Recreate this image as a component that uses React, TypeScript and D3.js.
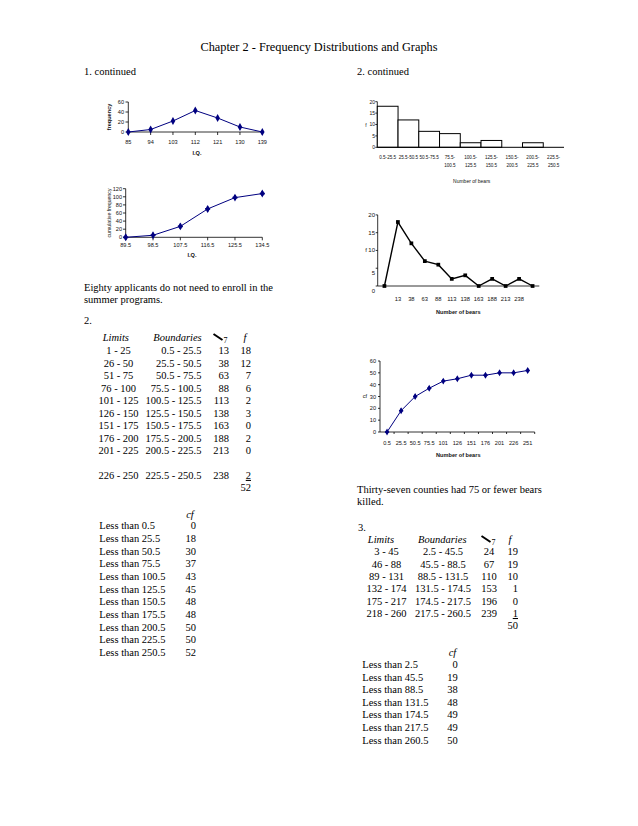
import React from 'react';
import * as d3 from 'd3';

// ---------- DATA ----------
const iqMidpoints = ['85', '94', '103', '112', '121', '130', '139'];
const iqFreq = [0, 5, 22, 43, 28, 10, 0];
const iqFreqTicks = [0, 20, 40, 60];

const iqBoundaries = ['89.5', '98.5', '107.5', '116.5', '125.5', '134.5'];
const iqCumFreq = [0, 5, 27, 70, 98, 108];
const iqCumTicks = [0, 20, 40, 60, 80, 100, 120];

const bearBinLabels = [
  ['0.5-25.5'], ['25.5-50.5'], ['50.5-75.5'], ['75.5-', '100.5'], ['100.5-', '125.5'],
  ['125.5-', '150.5'], ['150.5-', '200.5'], ['200.5-', '225.5'], ['225.5-', '250.5'],
];
const bearBinFreq = [18, 12, 7, 6, 2, 3, 0, 2, 0];
const bearHistTicks = [0, 5, 10, 15, 20];

const bearMidLabels = ['', '13', '38', '63', '88', '113', '138', '163', '188', '213', '238', ''];
const bearMidFreq = [0, 18, 12, 7, 6, 2, 3, 0, 2, 0, 2, 0];
const bearPolyTicks = [0, 5, 10, 15, 20];

const bearCfLabels = ['0.5', '25.5', '50.5', '75.5', '101', '126', '151', '176', '201', '226', '251'];
const bearCf = [0, 18, 30, 37, 43, 45, 48, 48, 50, 50, 52];
const bearCfTicks = [0, 10, 20, 30, 40, 50, 60];

const p2Limits = ['1 - 25', '26 - 50', '51 - 75', '76 - 100', '101 - 125', '126 - 150', '151 - 175', '176 - 200', '201 - 225', '226 - 250'];
const p2Bounds = ['0.5 - 25.5', '25.5 - 50.5', '50.5 - 75.5', '75.5 - 100.5', '100.5 - 125.5', '125.5 - 150.5', '150.5 - 175.5', '175.5 - 200.5', '200.5 - 225.5', '225.5 - 250.5'];
const p2Mid = ['13', '38', '63', '88', '113', '138', '163', '188', '213', '238'];
const p2Freq = ['18', '12', '7', '6', '2', '3', '0', '2', '0', '2'];
const p2Total = '52';
const p2CfLabels = ['Less than 0.5', 'Less than 25.5', 'Less than 50.5', 'Less than 75.5', 'Less than 100.5', 'Less than 125.5', 'Less than 150.5', 'Less than 175.5', 'Less than 200.5', 'Less than 225.5', 'Less than 250.5'];
const p2Cf = ['0', '18', '30', '37', '43', '45', '48', '48', '50', '50', '52'];

const p3Limits = ['3 - 45', '46 - 88', '89 - 131', '132 - 174', '175 - 217', '218 - 260'];
const p3Bounds = ['2.5 - 45.5', '45.5 - 88.5', '88.5 - 131.5', '131.5 - 174.5', '174.5 - 217.5', '217.5 - 260.5'];
const p3Mid = ['24', '67', '110', '153', '196', '239'];
const p3Freq = ['19', '19', '10', '1', '0', '1'];
const p3Total = '50';
const p3CfLabels = ['Less than 2.5', 'Less than 45.5', 'Less than 88.5', 'Less than 131.5', 'Less than 174.5', 'Less than 217.5', 'Less than 260.5'];
const p3Cf = ['0', '19', '38', '48', '49', '49', '50'];

// ---------- STYLE ----------
const SERIF = "'Liberation Serif', 'Times New Roman', serif";
const SANS = "'Liberation Sans', Arial, sans-serif";
const NAVY = '#000080';
const FS = 10.5;

const T = (props: any) => <text fontFamily={SERIF} fontSize={FS} fill="#000" {...props} />;
const S = (props: any) => <text fontFamily={SANS} fontSize={5.6} fill="#111" {...props} />;

function IqFreqChart() {
  const x = d3.scalePoint<string>().domain(iqMidpoints).range([128.3, 262.3]);
  const y = d3.scaleLinear().domain([0, 60]).range([132, 102]);
  const line = d3.line<number>().x((_, i) => x(iqMidpoints[i])!).y(d => y(d));
  const diamond = d3.symbol().type(d3.symbolDiamond).size(18)()!;
  return (
    <g>
      <line x1={128.3} x2={128.3} y1={y(60)} y2={y(0)} stroke="#000" strokeWidth={0.8} />
      <line x1={128.3} x2={262.3} y1={y(0)} y2={y(0)} stroke="#000" strokeWidth={0.8} />
      {iqFreqTicks.map(t => (
        <g key={t}>
          <line x1={125.5} x2={128.3} y1={y(t)} y2={y(t)} stroke="#000" strokeWidth={0.8} />
          <S x={124} y={y(t) + 2} textAnchor="end">{t}</S>
        </g>
      ))}
      {iqMidpoints.map(m => (
        <g key={m}>
          <line x1={x(m)} x2={x(m)} y1={y(0)} y2={y(0) + 3} stroke="#000" strokeWidth={0.8} />
          <S x={x(m)} y={143.8} textAnchor="middle">{m}</S>
        </g>
      ))}
      <path d={line(iqFreq)!} fill="none" stroke={NAVY} strokeWidth={1} />
      {iqFreq.map((v, i) => (
        <path key={i} d={diamond} transform={`translate(${x(iqMidpoints[i])},${y(v)})`} fill={NAVY} />
      ))}
      <S x={197} y={155} textAnchor="middle" fontWeight="bold">I.Q.</S>
      <S transform="translate(111,117) rotate(-90)" textAnchor="middle" fontWeight="bold">frequency</S>
    </g>
  );
}

function IqCumChart() {
  const x = d3.scalePoint<string>().domain(iqBoundaries).range([125.7, 262.3]);
  const y = d3.scaleLinear().domain([0, 120]).range([237.3, 188.7]);
  const line = d3.line<number>().x((_, i) => x(iqBoundaries[i])!).y(d => y(d));
  const star = d3.symbol().type(d3.symbolDiamond).size(18)()!;
  const cross = d3.symbol().type(d3.symbolCross).size(14)()!;
  return (
    <g>
      <line x1={125.7} x2={125.7} y1={y(120)} y2={y(0)} stroke="#000" strokeWidth={0.8} />
      <line x1={125.7} x2={262.3} y1={y(0)} y2={y(0)} stroke="#000" strokeWidth={0.8} />
      {iqCumTicks.map(t => (
        <g key={t}>
          <line x1={123} x2={125.7} y1={y(t)} y2={y(t)} stroke="#000" strokeWidth={0.8} />
          <S x={122} y={y(t) + 2} textAnchor="end">{t}</S>
        </g>
      ))}
      {iqBoundaries.map(m => (
        <g key={m}>
          <line x1={x(m)} x2={x(m)} y1={y(0)} y2={y(0) + 3} stroke="#000" strokeWidth={0.8} />
          <S x={x(m)} y={247.3} textAnchor="middle">{m}</S>
        </g>
      ))}
      <path d={line(iqCumFreq)!} fill="none" stroke={NAVY} strokeWidth={1} />
      {iqCumFreq.map((v, i) => (
        <g key={i} transform={`translate(${x(iqBoundaries[i])},${y(v)})`}>
          <path d={star} fill={NAVY} />
          <path d={cross} fill={NAVY} />
        </g>
      ))}
      <S x={192} y={257} textAnchor="middle" fontWeight="bold">I.Q.</S>
      <S transform="translate(110.5,213) rotate(-90)" textAnchor="middle" fontSize={5.2}>cumulative  frequency</S>
    </g>
  );
}

function BearHistogram() {
  const idx = bearBinFreq.map((_, i) => String(i));
  const x = d3.scaleBand<string>().domain(idx).range([377.3, 564]).padding(0);
  const y = d3.scaleLinear().domain([0, 20]).range([147.3, 101.7]);
  return (
    <g>
      <line x1={377.3} x2={377.3} y1={y(20)} y2={y(0)} stroke="#000" strokeWidth={0.8} />
      {bearHistTicks.map(t => (
        <g key={t}>
          <line x1={375.3} x2={377.3} y1={y(t)} y2={y(t)} stroke="#000" strokeWidth={0.8} />
          <S x={375} y={y(t) + 1.8} textAnchor="end" fontSize={5}>{t}</S>
        </g>
      ))}
      {bearBinFreq.map((v, i) => (
        <rect key={i} x={x(String(i))} y={y(v)} width={x.bandwidth()} height={y(0) - y(v)} fill="#fff" stroke="#000" strokeWidth={1} />
      ))}
      <line x1={377.3} x2={564} y1={y(0)} y2={y(0)} stroke="#000" strokeWidth={1} />
      {bearBinLabels.map((lab, i) => (
        <g key={i}>
          {lab.map((s, j) => (
            <S key={j} x={x(String(i))! + x.bandwidth() / 2} y={159 + j * 8} textAnchor="middle" fontSize={4.6}>{s}</S>
          ))}
        </g>
      ))}
      <S x={366} y={127} textAnchor="middle" fontSize={5}>f</S>
      <S x={471.7} y={183} textAnchor="middle" fontSize={5}>Number of bears</S>
    </g>
  );
}

function BearPolygon() {
  const idx = bearMidLabels.map((_, i) => String(i));
  const x = d3.scalePoint<string>().domain(idx).range([377.7, 539.3]).padding(0.5);
  const y = d3.scaleLinear().domain([0, 20]).range([286, 214.9]);
  const line = d3.line<number>().x((_, i) => x(String(i))!).y(d => y(d));
  const sq = d3.symbol().type(d3.symbolSquare).size(14)()!;
  return (
    <g>
      <line x1={377.7} x2={377.7} y1={y(20)} y2={y(0)} stroke="#000" strokeWidth={0.8} />
      <line x1={377.7} x2={539.3} y1={y(0)} y2={y(0)} stroke="#000" strokeWidth={0.8} />
      {bearPolyTicks.map(t => (
        <g key={t}>
          <line x1={375.7} x2={377.7} y1={y(t)} y2={y(t)} stroke="#000" strokeWidth={0.8} />
          <S x={375} y={y(t) + 2 + (t <= 5 ? 5 : 0)} textAnchor="end" fontSize={6}>{t}</S>
        </g>
      ))}
      {bearMidLabels.map((m, i) => m ? (
        <S key={i} x={x(String(i))} y={301} textAnchor="middle" fontSize={5.8}>{m}</S>
      ) : null)}
      <path d={line(bearMidFreq)!} fill="none" stroke="#000" strokeWidth={1.4} />
      {bearMidFreq.map((v, i) => (
        <path key={i} d={sq} transform={`translate(${x(String(i))},${y(v)})`} fill="#000" />
      ))}
      <S x={366} y={252.3} textAnchor="middle" fontSize={6}>f</S>
      <S x={458.3} y={314} textAnchor="middle" fontWeight="bold">Number of bears</S>
    </g>
  );
}

function BearOgive() {
  const x = d3.scalePoint<string>().domain(bearCfLabels).range([380, 534.7]).padding(0.5);
  const y = d3.scaleLinear().domain([0, 60]).range([432, 361]);
  const line = d3.line<number>().x((_, i) => x(bearCfLabels[i])!).y(d => y(d));
  const star = d3.symbol().type(d3.symbolDiamond).size(14)()!;
  const cross = d3.symbol().type(d3.symbolCross).size(10)()!;
  const step = x.step();
  return (
    <g>
      <line x1={380} x2={380} y1={y(60)} y2={y(0)} stroke="#000" strokeWidth={0.8} />
      <line x1={380} x2={534.7} y1={y(0)} y2={y(0)} stroke="#000" strokeWidth={0.8} />
      {bearCfTicks.map(t => (
        <g key={t}>
          <line x1={378} x2={380} y1={y(t)} y2={y(t)} stroke="#000" strokeWidth={0.8} />
          <S x={376} y={y(t) + 2} textAnchor="end">{t}</S>
        </g>
      ))}
      {bearCfLabels.map(m => (
        <g key={m}>
          <line x1={x(m)! + step / 2} x2={x(m)! + step / 2} y1={y(0)} y2={y(0) + 2} stroke="#000" strokeWidth={0.8} />
          <S x={x(m)} y={444.5} textAnchor="middle">{m}</S>
        </g>
      ))}
      <path d={line(bearCf)!} fill="none" stroke={NAVY} strokeWidth={1} />
      {bearCf.map((v, i) => (
        <g key={i} transform={`translate(${x(bearCfLabels[i])},${y(v)})`}>
          <path d={star} fill={NAVY} />
          <path d={cross} fill={NAVY} />
        </g>
      ))}
      <S x={365} y={398} textAnchor="middle">cf</S>
      <S x={458.3} y={456.5} textAnchor="middle" fontWeight="bold">Number of bears</S>
    </g>
  );
}

function MidGlyph({ x, y }: { x: number; y: number }) {
  return (
    <g>
      <line x1={x} y1={y - 7} x2={x + 9} y2={y - 1} stroke="#000" strokeWidth={2} />
      <T x={x + 10} y={y + 1.5} fontSize={8}>7</T>
    </g>
  );
}

function Problem2Table() {
  const rowY = (i: number) => 354.4 + (i < 9 ? i : 10) * 12.45;
  return (
    <g>
      <T x={115.8} y={341} textAnchor="middle" fontStyle="italic">Limits</T>
      <T x={177.5} y={341} textAnchor="middle" fontStyle="italic">Boundaries</T>
      <MidGlyph x={213.5} y={341} />
      <T x={245} y={341} textAnchor="middle" fontStyle="italic">f</T>
      {p2Limits.map((s, i) => (
        <g key={i}>
          <T x={118.5} y={rowY(i)} textAnchor="middle">{s}</T>
          <T x={201.5} y={rowY(i)} textAnchor="end">{p2Bounds[i]}</T>
          <T x={229} y={rowY(i)} textAnchor="end">{p2Mid[i]}</T>
          <T x={251} y={rowY(i)} textAnchor="end" textDecoration={i === p2Limits.length - 1 ? 'underline' : undefined}>{p2Freq[i]}</T>
        </g>
      ))}
      <T x={251} y={491} textAnchor="end">{p2Total}</T>
      <T x={190} y={517.5} textAnchor="middle" fontStyle="italic">cf</T>
      {p2CfLabels.map((s, i) => (
        <g key={i}>
          <T x={99.3} y={529.4 + i * 12.66}>{s}</T>
          <T x={196} y={529.4 + i * 12.66} textAnchor="end">{p2Cf[i]}</T>
        </g>
      ))}
    </g>
  );
}

function Problem3Table() {
  const rowY = (i: number) => 555.4 + i * 12.32;
  return (
    <g>
      <T x={358} y={531}>3.</T>
      <T x={381} y={543} textAnchor="middle" fontStyle="italic">Limits</T>
      <T x={442.3} y={543} textAnchor="middle" fontStyle="italic">Boundaries</T>
      <MidGlyph x={481.5} y={543} />
      <T x={510} y={543} textAnchor="middle" fontStyle="italic">f</T>
      {p3Limits.map((s, i) => (
        <g key={i}>
          <T x={386.5} y={rowY(i)} textAnchor="middle">{s}</T>
          <T x={443} y={rowY(i)} textAnchor="middle">{p3Bounds[i]}</T>
          <T x={489} y={rowY(i)} textAnchor="middle">{p3Mid[i]}</T>
          <T x={518} y={rowY(i)} textAnchor="end" textDecoration={i === p3Limits.length - 1 ? 'underline' : undefined}>{p3Freq[i]}</T>
        </g>
      ))}
      <T x={518} y={rowY(6)} textAnchor="end">{p3Total}</T>
      <T x={452.5} y={655.5} textAnchor="middle" fontStyle="italic">cf</T>
      {p3CfLabels.map((s, i) => (
        <g key={i}>
          <T x={362.3} y={668 + i * 12.6}>{s}</T>
          <T x={457.7} y={668 + i * 12.6} textAnchor="end">{p3Cf[i]}</T>
        </g>
      ))}
    </g>
  );
}

export default function App() {
  return (
    <svg width={638} height={826} style={{ position: 'absolute', left: 0, top: 0, background: '#fff' }}>
      <rect width={638} height={826} fill="#fff" />
      <T x={319} y={51} textAnchor="middle" fontSize={12.3}>Chapter 2 - Frequency Distributions and Graphs</T>
      <T x={84} y={75}>1.  continued</T>
      <T x={357} y={75}>2.  continued</T>
      <IqFreqChart />
      <IqCumChart />
      <BearHistogram />
      <BearPolygon />
      <BearOgive />
      <T x={84} y={290.5}>Eighty applicants do not need to enroll in the</T>
      <T x={84} y={303}>summer programs.</T>
      <T x={84} y={324}>2.</T>
      <Problem2Table />
      <T x={357} y={492.5}>Thirty-seven counties had 75 or fewer bears</T>
      <T x={357} y={505}>killed.</T>
      <Problem3Table />
    </svg>
  );
}
